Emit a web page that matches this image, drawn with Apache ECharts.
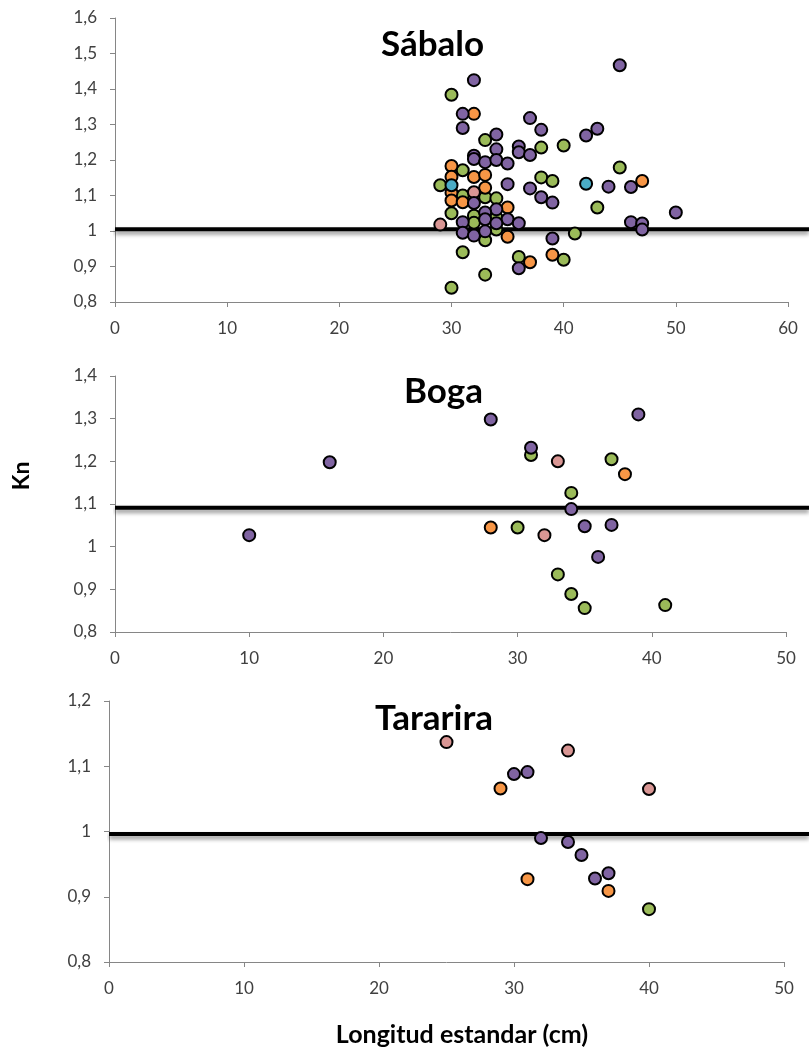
<!DOCTYPE html>
<html><head><meta charset="utf-8">
<script src="https://cdn.jsdelivr.net/npm/echarts@6/dist/echarts.min.js"></script>
<style>html,body{margin:0;padding:0;background:#fff}#c{width:809px;height:1059px}</style>
</head><body><div id="c"></div>
<script>
// ---- Sábalo ----
const sabaloPurple = [[45,1.467],[32,1.425],[31,1.33],[31,1.29],[37,1.318],[38,1.285],[34,1.272],[34,1.23],[36,1.238],[36,1.222],[37,1.214],[42,1.269],[43,1.288],[32,1.212],[32,1.203],[33,1.194],[34,1.2],[35,1.19],[35,1.132],[37,1.12],[38,1.095],[39,1.08],[44,1.125],[46,1.124],[50,1.052],[46,1.025],[47,1.021],[47,1.004],[39,0.979],[36,0.895],[32,1.079],[34,1.061],[33,1.052],[33,1.033],[35,1.033],[31,1.025],[34,1.022],[36,1.022],[31,0.995],[32,0.987],[33,0.999]];
const sabaloGreen = [[30,1.384],[33,1.256],[38,1.235],[40,1.241],[31,1.171],[29,1.129],[38,1.151],[39,1.141],[45,1.179],[31,1.1],[33,1.095],[34,1.092],[43,1.066],[30,1.05],[32,1.043],[34,1.038],[32,1.023],[34,1.004],[33,0.974],[41,0.993],[31,0.94],[36,0.927],[40,0.919],[33,0.877],[30,0.84]];
const sabaloOrange = [[32,1.33],[30,1.183],[30,1.153],[32,1.152],[33,1.158],[33,1.122],[30,1.108],[30,1.086],[31,1.081],[35,1.066],[35,0.984],[37,0.912],[39,0.933],[47,1.141]];
const sabaloPink = [[32,1.109],[29,1.018]];
const sabaloCyan = [[30,1.129],[42,1.133]];
const sabaloLine = 1.005;
// ---- Boga ----
const bogaPurple = [[10,1.027],[16,1.198],[28,1.298],[31,1.232],[39,1.31],[34,1.088],[35,1.048],[37,1.051],[36,0.976]];
const bogaGreen = [[31,1.215],[37,1.205],[34,1.126],[30,1.045],[33,0.935],[34,0.889],[35,0.856],[41,0.863]];
const bogaOrange = [[38,1.17],[28,1.045]];
const bogaPink = [[33,1.2],[32,1.027]];
const bogaLine = 1.091;
// ---- Tararira ----
const tarariraPurple = [[30,1.088],[31,1.091],[32,0.99],[34,0.984],[35,0.964],[36,0.928],[37,0.936]];
const tarariraGreen = [[40,0.881]];
const tarariraOrange = [[29,1.066],[31,0.927],[37,0.909]];
const tarariraPink = [[25,1.137],[34,1.124],[40,1.065]];
const tarariraLine = 0.996;
// ---- axes ----
const panelTitles = ['Sábalo','Boga','Tararira'];
const yRanges = [[0.8,1.6],[0.8,1.4],[0.8,1.2]];
const xMaxes = [60,50,50];
const yAxisName = 'Kn';
const xAxisName = 'Longitud estandar (cm)';

const COL = {purple:'#8064A2', green:'#9BBB59', orange:'#F79646', pink:'#D99694', cyan:'#4BACC6'};
const FONT = 'Lato, "Open Sans", sans-serif';
const W = 809;
const grids = [
  {left:115, top:18, width:673, height:284},
  {left:115, top:376, width:671, height:256},
  {left:109, top:701, width:675, height:261}
];
// overlay grids reaching the right edge, for the reference lines that run past the axis end
const lineGrids = grids.map(g => ({left:g.left, top:g.top, width:W-g.left, height:g.height}));
const lineXMax = grids.map((g,i) => xMaxes[i] * (W-g.left) / g.width);

const fmtY = v => (Math.round(v*10)/10).toString().replace('.', ',');
const axisLine = {show:true, lineStyle:{color:'#868686', width:1}};
const axisTick = {show:true, length:5, lineStyle:{color:'#868686'}};
const xAxes = grids.map((g,i)=>({type:'value', gridIndex:i, min:0, max:xMaxes[i], interval:10,
  axisLine, axisTick, splitLine:{show:false},
  axisLabel:{fontSize:17, color:'#404040', fontFamily:FONT, margin:18}}));
const yAxes = grids.map((g,i)=>({type:'value', gridIndex:i, min:yRanges[i][0], max:yRanges[i][1], interval:0.1,
  axisLine, axisTick, splitLine:{show:false},
  axisLabel:{fontSize:17, color:'#404040', fontFamily:FONT, margin:18, formatter:fmtY}}));
lineGrids.forEach((g,i)=>{
  xAxes.push({type:'value', gridIndex:3+i, min:0, max:lineXMax[i], show:false, splitLine:{show:false}});
  yAxes.push({type:'value', gridIndex:3+i, min:yRanges[i][0], max:yRanges[i][1], show:false, splitLine:{show:false}});
});

function sc(data, color, i){
  return {type:'scatter', xAxisIndex:i, yAxisIndex:i, data, symbolSize:12, z:3,
    itemStyle:{color, borderColor:'#000', borderWidth:2, opacity:1}, emphasis:{disabled:true}};
}
function ln(y, i){
  return {type:'line', xAxisIndex:3+i, yAxisIndex:3+i, data:[[0,y],[lineXMax[i],y]], symbol:'none', z:1,
    lineStyle:{color:'#000', width:4, shadowColor:'rgba(0,0,0,0.45)', shadowBlur:4, shadowOffsetY:3}};
}
const series = [
  ln(sabaloLine,0), sc(sabaloGreen,COL.green,0), sc(sabaloOrange,COL.orange,0), sc(sabaloPink,COL.pink,0), sc(sabaloPurple,COL.purple,0), sc(sabaloCyan,COL.cyan,0),
  ln(bogaLine,1), sc(bogaGreen,COL.green,1), sc(bogaOrange,COL.orange,1), sc(bogaPink,COL.pink,1), sc(bogaPurple,COL.purple,1),
  ln(tarariraLine,2), sc(tarariraGreen,COL.green,2), sc(tarariraOrange,COL.orange,2), sc(tarariraPink,COL.pink,2), sc(tarariraPurple,COL.purple,2)
];
const titleStyle = {fontSize:35, fontWeight:'bold', color:'#000', fontFamily:FONT};
const chart = echarts.init(document.getElementById('c'), null, {renderer:'canvas'});
chart.setOption({
  animation:false,
  title:[
    {text:panelTitles[0], left:376, top:22, textStyle:titleStyle},
    {text:panelTitles[1], left:399, top:369, textStyle:titleStyle},
    {text:panelTitles[2], left:370, top:696, textStyle:titleStyle}
  ],
  grid:grids.concat(lineGrids), xAxis:xAxes, yAxis:yAxes, series,
  graphic:[
    {type:'text', x:22, y:476, rotation:Math.PI/2, style:{text:yAxisName, font:'bold 23px '+FONT, fill:'#000', textAlign:'center', textVerticalAlign:'middle'}},
    {type:'text', x:462, y:1035, style:{text:xAxisName, font:'bold 25px '+FONT, fill:'#000', textAlign:'center', textVerticalAlign:'middle'}}
  ]
});
</script></body></html>
